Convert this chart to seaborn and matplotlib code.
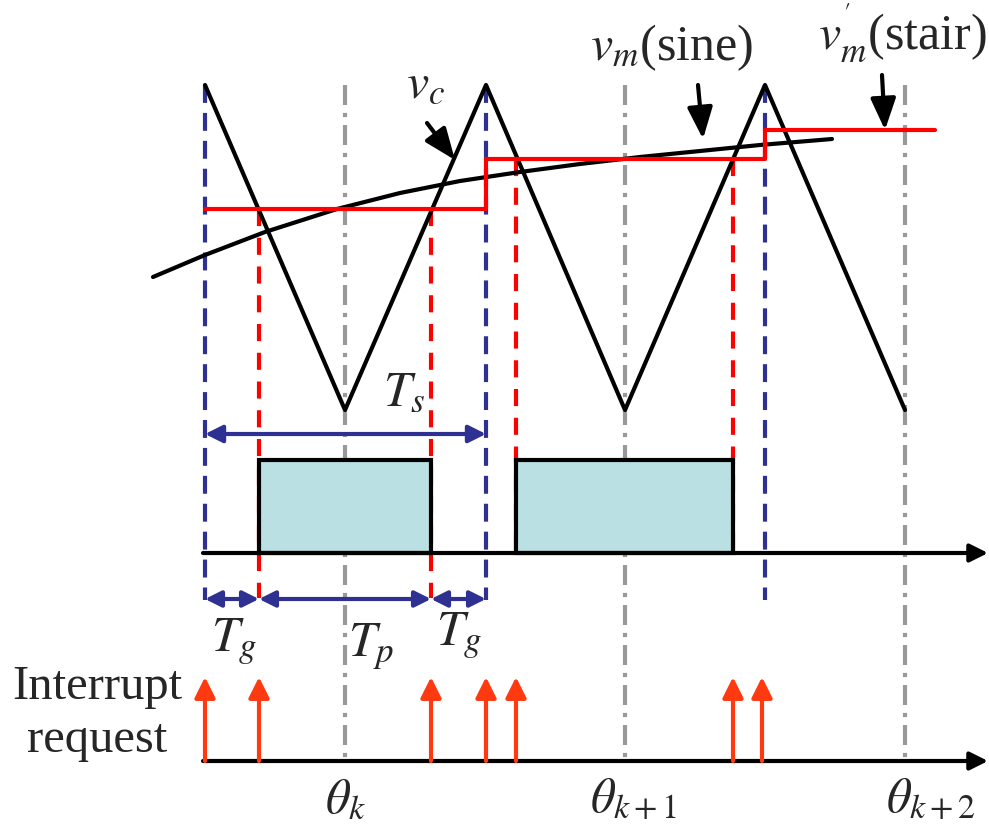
import matplotlib
matplotlib.use("Agg")
import matplotlib.pyplot as plt
import seaborn as sns
from matplotlib.patches import Rectangle

# ---------------- data (pixel-space schematic) ----------------
carrier_x = [205, 345, 486, 625, 765, 905]
carrier_y = [85, 410, 85, 410, 85, 410]

sine_x = [153, 205, 265, 337, 400, 460, 520, 580, 640, 700, 760, 832]
sine_y = [277, 255, 232, 209, 193, 181, 172, 164, 157, 151, 145, 139]

stair_x = [205, 486, 765, 935]
stair_y = [209, 159, 130, 130]

peak_x = [205, 486, 765]          # blue dashed (carrier peaks)
theta_x = [345, 625, 905]         # gray dash-dot (carrier valleys)
theta_labels = [r"$\theta_k$", r"$\theta_{k+1}$", r"$\theta_{k+2}$"]
switch_x = [259, 431, 516, 733]   # red dashed (crossings)
switch_level = [209, 209, 159, 159]
pulse_on = [259, 516]
pulse_off = [431, 733]
interrupt_x = [205, 259, 431, 486, 516, 733, 762]

# ---------------- style ----------------
sns.set_style("white")
plt.rcParams["font.family"] = ["Liberation Serif", "DejaVu Serif"]
plt.rcParams["mathtext.fontset"] = "stix"

W, H = 989, 830
fig = plt.figure(figsize=(W / 100, H / 100), dpi=100)
ax = fig.add_axes([0, 0, 1, 1])

BLUE = "#2E3192"
RED = "#FF0000"
GRAY = "#999999"
ORANGE = "#FF3A10"
FILL = "#BAE0E3"
LW = 3.0

# reference verticals
for x in theta_x:
    ln, = ax.plot([x, x], [85, 761], color=GRAY, lw=LW, zorder=1)
    ln.set_dashes([4.8, 1.9, 1.0, 1.9])
for x in peak_x:
    ln, = ax.plot([x, x], [85, 600], color=BLUE, lw=LW, zorder=2)
    ln.set_dashes([4.3, 2.4])
for x, lv in zip(switch_x, switch_level):
    bottom = 598 if x < 480 else 553
    ln, = ax.plot([x, x], [lv, bottom], color=RED, lw=LW, zorder=2)
    ln.set_dashes([4.1, 2.8])

# carrier, sine reference, stair
sns.lineplot(x=carrier_x, y=carrier_y, ax=ax, color="black", lw=LW, sort=False, zorder=4)
sns.lineplot(x=sine_x, y=sine_y, ax=ax, color="black", lw=LW, sort=False, zorder=4)
sns.lineplot(x=stair_x, y=stair_y, ax=ax, color=RED, lw=LW, sort=False,
             drawstyle="steps-post", zorder=5)

# PWM pulses
for a, b in zip(pulse_on, pulse_off):
    ax.add_patch(Rectangle((a, 460), b - a, 553 - 460, facecolor=FILL,
                           edgecolor="black", lw=LW, zorder=3))


def arrow(x0, y0, x1, y1, color, ms, style="-|>"):
    ax.annotate("", xy=(x1, y1), xytext=(x0, y0), annotation_clip=False,
                arrowprops=dict(arrowstyle=style, lw=LW, color=color,
                                mutation_scale=ms, shrinkA=0, shrinkB=0),
                zorder=6)


# PWM axis and interrupt axis
arrow(203, 553, 988, 553, "black", 27)
arrow(203, 761, 988, 761, "black", 27)

# Ts / Tg / Tp arrows
arrow(205, 434, 486, 434, BLUE, 26, "<|-|>")
arrow(205, 599, 259, 599, BLUE, 24, "<|-|>")
arrow(259, 599, 431, 599, BLUE, 24, "<|-|>")
arrow(431, 599, 486, 599, BLUE, 24, "<|-|>")

# interrupt request arrows
for x in interrupt_x:
    arrow(x, 761, x, 677, ORANGE, 31)

# label arrows
lab_style = "-|>,head_length=0.6,head_width=0.24"
arrow(427, 123, 455, 160, "black", 32, lab_style)
arrow(698, 85, 703, 139, "black", 32, lab_style)
arrow(882, 75, 885, 130, "black", 32, lab_style)

FS = 36
ax.text(406, 97, r"$v_c$", fontsize=FS, ha="left", va="baseline")
ax.text(590, 60, r"$v_m$(sine)", fontsize=FS, ha="left", va="baseline")
ax.text(818, 50, r"$v_m^{'}$(stair)", fontsize=FS, ha="left", va="baseline")
ax.text(383, 405, r"$T_s$", fontsize=FS, ha="left", va="baseline")
ax.text(211, 651, r"$T_g$", fontsize=FS, ha="left", va="baseline")
ax.text(348, 656, r"$T_p$", fontsize=FS, ha="left", va="baseline")
ax.text(436, 645, r"$T_g$", fontsize=FS, ha="left", va="baseline")
ax.text(97, 699, "Interrupt", fontsize=35, ha="center", va="baseline")
ax.text(97, 752, "request", fontsize=35, ha="center", va="baseline")
for x0, lab in zip([325, 590, 886], theta_labels):
    ax.text(x0, 812, lab, fontsize=35, ha="left", va="baseline")

ax.set_xlim(0, W)
ax.set_ylim(H, 0)
ax.axis("off")
fig.savefig("out.png", dpi=100)
